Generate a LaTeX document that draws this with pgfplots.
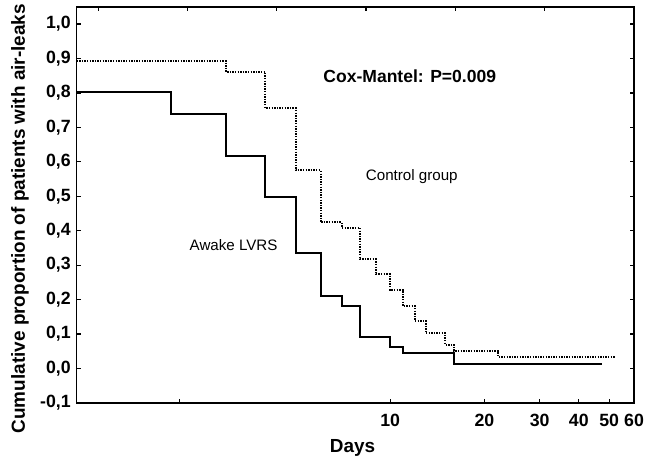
\documentclass[border=0pt]{standalone}
\usepackage{fontspec}
\setmainfont{Liberation Sans}
\usepackage{pgfplots}
\pgfplotsset{compat=1.18}
\usetikzlibrary{calc}

\pgfplotsset{
  kmframe/.style={
    scale only axis, width=557.3bp, height=396bp,
    axis line style={line width=1.5bp, black},
    tick align=inside, major tick length=4bp,
    tick style={line width=1.2bp, black},
  },
}

\begin{document}
\begin{tikzpicture}
\begin{axis}[
  kmframe,
  xmode=log, log basis x=10,
  xmin=1, xmax=60, ymin=-0.1, ymax=1.05,
  xtick={10,20,30,40,50,60}, xticklabels={10,20,30,40,50,60},
  extra x ticks={2.13}, extra x tick labels={},
  xtick pos=left,
  ytick={-0.1,0,0.1,0.2,0.3,0.4,0.5,0.6,0.7,0.8,0.9,1.0},
  ytick pos=both,
  /pgf/number format/assume math mode=true,
  yticklabel style={/pgf/number format/fixed, /pgf/number format/fixed zerofill,
    /pgf/number format/precision=1, /pgf/number format/use comma, xshift=-2.5bp},
  tick label style={font=\bfseries\fontsize{17.8}{17.8}\selectfont},
  xticklabel style={yshift=-7.5bp},
  xlabel={Days},
  ylabel={Cumulative proportion of patients with air-leaks},
  label style={font=\bfseries\fontsize{19}{19}\selectfont},
  xlabel style={at={(rel axis cs:0.4949,-0.1136)}, anchor=center},
  ylabel style={at={(rel axis cs:-0.1017,0.465)}, anchor=center},
  clip=false,
]
% Awake LVRS
\addplot[const plot, black, line width=2bp] coordinates {
  (1,0.802) (2,0.739) (3,0.618) (4,0.497) (5,0.334) (6,0.211) (7,0.182)
  (8,0.090) (10,0.061) (11,0.044) (16,0.013) (47.3,0.013)
};
% Control group
\addplot[const plot, black, line width=2bp, dash pattern=on 1.4bp off 1.2bp] coordinates {
  (1,0.892) (3,0.861) (4,0.756) (5,0.575) (6,0.424) (7,0.409) (8,0.317)
  (9,0.273) (10,0.228) (11,0.181) (12,0.138) (13,0.102) (15,0.068)
  (16,0.051) (22.1,0.034) (52.5,0.034)
};
\node[anchor=west, inner sep=0pt, font=\bfseries\fontsize{17.6}{17.6}\selectfont] at (axis cs:6.12,0.848) {Cox-Mantel: P=0.009};
\node[anchor=west, inner sep=0pt, font=\fontsize{15.2}{15.2}\selectfont] at (axis cs:8.36,0.557) {Control group};
\node[anchor=west, inner sep=0pt, font=\fontsize{15.2}{15.2}\selectfont] at (axis cs:2.29,0.357) {Awake LVRS};
\end{axis}
% top-edge ticks (evenly spaced in the original)
\begin{axis}[
  kmframe,
  xmin=0, xmax=557.3, ymin=0, ymax=1,
  xtick={21.6,110.8,200,289.2,378.4,467.6}, xticklabels={},
  xtick pos=right, ytick=\empty,
]
\end{axis}
\path ($(current axis.south west)+(-76.7bp,-58.3bp)$) rectangle ($(current axis.north east)+(23bp,5.7bp)$);
\end{tikzpicture}
\end{document}
